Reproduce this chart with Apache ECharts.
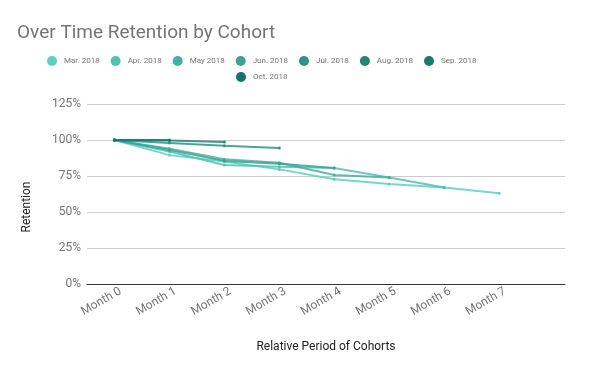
<!DOCTYPE html>
<html>
<head>
<meta charset="utf-8">
<script src="https://cdn.jsdelivr.net/npm/echarts@6/dist/echarts.min.js"></script>
<style>html,body{margin:0;padding:0;background:#fff}#c{width:600px;height:371px}</style>
</head>
<body>
<div id="c"></div>
<script>
const categories = ['Month 0', 'Month 1', 'Month 2', 'Month 3', 'Month 4', 'Month 5', 'Month 6', 'Month 7'];
const cohorts = ['Mar. 2018', 'Apr. 2018', 'May 2018', 'Jun. 2018', 'Jul. 2018', 'Aug. 2018', 'Sep. 2018', 'Oct. 2018'];
const mar2018 = [100, 89.5, 85, 79.6, 72.7, 69.5, 67, 63];
const apr2018 = [100, 92, 82.6, 81.5, 80.5, 74, 67];
const may2018 = [100, 94, 86.6, 84.2, 75.7, 74];
const jun2018 = [100, 93, 85.5, 83.5, 80.5];
const jul2018 = [100, 98, 96, 94.5];
const aug2018 = [100, 99.7, 98.6];
const sep2018 = [100, 100];
const oct2018 = [100];
const yTicks = [0, 25, 50, 75, 100, 125];

const seriesValues = [mar2018, apr2018, may2018, jun2018, jul2018, aug2018, sep2018, oct2018];
const colors = ['#5ECFC0', '#50C2B1', '#45B09F', '#3BA393', '#2E9384', '#228475', '#177A6C', '#137467'];

const chart = echarts.init(document.getElementById('c'));
const font = 'Roboto';
const legendText = { fontFamily: font, fontSize: 8, color: '#757575', padding: [0, 0, 0, 2] };
chart.setOption({
  animation: false,
  color: colors,
  title: {
    text: 'Over Time Retention by Cohort',
    left: 17, top: 24, padding: 0,
    textStyle: { fontFamily: font, fontSize: 19, fontWeight: 'normal', color: '#757575' }
  },
  legend: [
    {
      data: cohorts.slice(0, 7),
      left: 47, top: 56, padding: 0,
      icon: 'circle', itemWidth: 10, itemHeight: 10, itemGap: 11,
      textStyle: legendText
    },
    {
      data: cohorts.slice(7),
      left: 236, top: 72, padding: 0,
      icon: 'circle', itemWidth: 10, itemHeight: 10, itemGap: 11,
      textStyle: legendText
    }
  ],
  grid: { left: 87, right: 35, top: 104, bottom: 87 },
  xAxis: {
    type: 'value',
    min: -0.5, max: 8.2,
    name: 'Relative Period of Cohorts',
    nameLocation: 'middle', nameGap: 57,
    nameTextStyle: { fontFamily: font, fontSize: 12, color: '#222' },
    axisLine: { show: true, onZero: false, lineStyle: { color: '#333', width: 1 } },
    axisTick: { show: false },
    splitLine: { show: false },
    axisLabel: {
      customValues: categories.map((c, i) => i),
      formatter: v => categories[v],
      rotate: 30, margin: 10,
      padding: [0, -7, 0, 0],
      fontFamily: font, fontSize: 12, color: '#757575'
    }
  },
  yAxis: {
    type: 'value',
    min: 0, max: 125, interval: 25,
    axisLine: { show: false },
    axisTick: { show: false },
    splitLine: { lineStyle: { color: '#cccccc', width: 1 } },
    axisLabel: {
      customValues: yTicks,
      formatter: v => v + '%', margin: 6,
      fontFamily: font, fontSize: 12, color: '#757575'
    }
  },
  graphic: [{
    type: 'text', x: 27, y: 207, rotation: Math.PI / 2,
    style: { text: 'Retention', align: 'center', verticalAlign: 'middle', fontFamily: font, fontSize: 12, fill: '#222' }
  }],
  series: seriesValues.map((vals, k) => ({
    name: cohorts[k],
    type: 'line',
    data: vals.map((v, i) => [i, v]),
    symbol: 'circle', symbolSize: 3,
    lineStyle: { width: 2, opacity: 0.85 },
    itemStyle: { color: colors[k] },
    z: 2 + k
  }))
});
</script>
</body>
</html>
